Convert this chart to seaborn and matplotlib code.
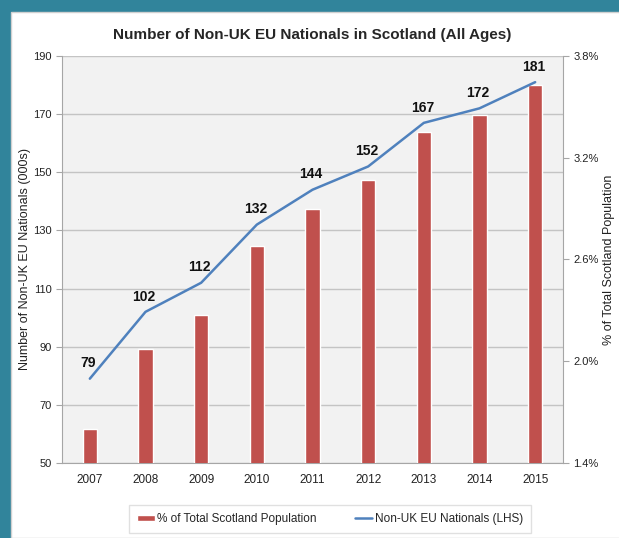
import numpy as np
import pandas as pd
import seaborn as sns
import matplotlib.pyplot as plt
from matplotlib.patches import Rectangle

years = ["2007", "2008", "2009", "2010", "2011", "2012", "2013", "2014", "2015"]
nationals = [79, 102, 112, 132, 144, 152, 167, 172, 181]          # thousands (LHS)
pct_population = [1.60, 2.07, 2.27, 2.68, 2.90, 3.07, 3.35, 3.45, 3.63]  # % (RHS)

left_ticks = [50, 70, 90, 110, 130, 150, 170, 190]
right_ticks = [1.4, 2.0, 2.6, 3.2, 3.8]

df = pd.DataFrame({"year": years, "nationals": nationals, "pct": pct_population})
df["pos"] = np.arange(len(df))

sns.set_style("white")
plt.rcParams["font.family"] = ["Liberation Sans Narrow", "Liberation Sans", "DejaVu Sans"]

bar_col = "#C0504D"
line_col = "#4F81BD"
teal = "#31849B"
txt = "#222222"

fig = plt.figure(figsize=(6.19, 5.38), dpi=100)
fig.patch.set_facecolor(teal)
bg = Rectangle((11 / 619, 0), 1, 1 - 12 / 538, transform=fig.transFigure,
               facecolor="white", edgecolor="#D0D0D0", lw=1, zorder=-10)
fig.add_artist(bg)

ax = fig.add_axes([62 / 619, 75 / 538, 501 / 619, 407 / 538])
ax.set_facecolor("#F2F2F2")
ax.set_ylim(50, 190)
ax.set_yticks(left_ticks)
ax.yaxis.grid(True, color="#C4C4C4", lw=1)
ax.set_axisbelow(True)

# bars on the percentage axis
ax2 = ax.twinx()
sns.barplot(data=df, x="pos", y="pct", color=bar_col, width=0.26, saturation=1,
            ax=ax2, native_scale=True, label="% of Total Scotland Population")
ax2.set_ylim(1.4, 3.8)
ax2.set_yticks(right_ticks)
ax2.set_yticklabels([f"{t:.1f}%" for t in right_ticks])
ax2.set_ylabel("% of Total Scotland Population", fontsize=9, color=txt)
ax2.yaxis.set_label_coords((603 - 62) / 501, 0.5)

# line on the count axis
ax3 = ax.twinx()
sns.lineplot(data=df, x="pos", y="nationals", color=line_col, lw=1.8, ax=ax3,
             label="Non-UK EU Nationals (LHS)")
ax3.set_ylim(50, 190)
ax3.set_yticks([])
ax3.set_ylabel("")
for p, v in zip(df["pos"], df["nationals"]):
    ax3.annotate(str(v), (p, v), xytext=(-1, 11), textcoords="offset points",
                 ha="center", va="center", fontsize=10, fontweight="bold", color="#111111")

for a in (ax, ax2, ax3):
    a.set_xlim(-0.5, len(df) - 0.5)
    for s in a.spines.values():
        s.set_visible(False)
ax.spines["left"].set_visible(True)
ax.spines["bottom"].set_visible(True)
ax.spines["left"].set_color("#A6A6A6")
ax.spines["bottom"].set_color("#A6A6A6")
ax2.spines["right"].set_visible(True)
ax2.spines["right"].set_color("#A6A6A6")

ax.set_xticks(df["pos"])
ax.set_xticklabels(years)
ax.set_xlabel("")
ax2.set_xlabel("")
ax3.set_xlabel("")
ax.set_ylabel("Number of Non-UK EU Nationals (000s)", fontsize=9, color=txt)
ax.yaxis.set_label_coords((31 - 62) / 501, 0.5)
ax.tick_params(axis="y", length=4, color="#A6A6A6", labelsize=8, labelcolor=txt, left=True)
ax.tick_params(axis="x", length=0, labelsize=8.5, labelcolor=txt, pad=8)
ax2.tick_params(axis="y", length=4, color="#A6A6A6", labelsize=8, labelcolor=txt, right=True)

ax.set_title("Number of Non-UK EU Nationals in Scotland (All Ages)", fontsize=11,
             fontweight="bold", pad=12)

h2, l2 = ax2.get_legend_handles_labels()
h3, l3 = ax3.get_legend_handles_labels()
if ax3.get_legend():
    ax3.get_legend().remove()
if ax2.get_legend():
    ax2.get_legend().remove()
leg = fig.legend(h2 + h3, l2 + l3, loc="center", bbox_to_anchor=(330 / 619, 1 - 519 / 538),
                 ncol=2, frameon=True, fontsize=8.5, handlelength=1.5, handleheight=0.45,
                 handletextpad=0.2, columnspacing=3.2, borderpad=0.7, borderaxespad=0,
                 fancybox=False)
leg.get_frame().set_edgecolor("#D9D9D9")
leg.get_frame().set_linewidth(1)

fig.savefig("out.png", dpi=100, facecolor=fig.get_facecolor())
